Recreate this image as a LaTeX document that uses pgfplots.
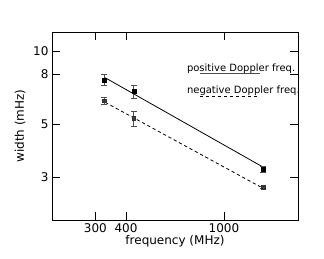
\documentclass[border=0pt]{standalone}
\usepackage{pgfplots}
\pgfplotsset{compat=1.18}
\usepackage{fontspec}
\setmainfont{DejaVu Sans}
\begin{document}
\begin{tikzpicture}
\begin{axis}[
  scale only axis,
  width=246bp, height=188bp,
  xmode=log, ymode=log,
  xmin=200, xmax=2000, ymin=2, ymax=12,
  xtick={300,400,1000}, xticklabels={300,400,1000},
  ytick={3,5,8,10}, yticklabels={3,5,8,10},
  minor xtick={}, minor ytick={},
  log ticks with fixed point,
  tick align=inside,
  major tick length=8bp,
  tick style={black, line width=0.6pt},
  axis line style={black, line width=0.6pt},
  xtick pos=both, ytick pos=both,
  tick label style={font=\fontsize{12bp}{14bp}\selectfont},
  /pgf/number format/assume math mode=true,
  label style={font=\fontsize{12bp}{14bp}\selectfont},
  xlabel={frequency (MHz)},
  ylabel={width (mHz)},
  xlabel style={at={(rel axis cs:0.5,0)}, anchor=center, yshift=-21bp},
  ylabel style={at={(rel axis cs:-0.130,0.5)}, anchor=center},
  clip=false,
]
% fitted lines
\addplot[black, line width=0.8pt, no marks] coordinates {(329,7.76) (1443,3.31)};
\addplot[black, line width=0.8pt, no marks, dash pattern=on 3.3bp off 2.7bp] coordinates {(329,6.14) (1400,2.75)};
% positive Doppler
\addplot[only marks, mark=square*, mark size=2bp, mark options={fill=black, draw=black},
  error bars/.cd, y dir=both, y explicit,
  error bar style={gray!60!black, line width=0.6pt},
  error mark options={gray!60!black, mark size=3bp, line width=0.6pt, rotate=90}]
  table[x=x, y=y, y error plus=ep, y error minus=em] {
x y ep em
326 7.58 0.42 0.38
430 6.81 0.41 0.44
1443 3.26 0.09 0.10
};
% negative Doppler
\addplot[only marks, mark=square*, mark size=1.8bp, mark options={fill=gray!45!black, draw=black!80, line width=0.5pt},
  error bars/.cd, y dir=both, y explicit,
  error bar style={gray!60!black, line width=0.6pt},
  error mark options={gray!60!black, mark size=3bp, line width=0.6pt, rotate=90}]
  table[x=x, y=y, y error plus=ep, y error minus=em] {
x y ep em
326 6.24 0.17 0.23
430 5.26 0.37 0.37
1443 2.74 0.03 0.03
};
% legend
\node[anchor=west, inner sep=0pt, font=\fontsize{10bp}{12bp}\selectfont] at (rel axis cs:0.548,0.802) {positive Doppler freq.};
\draw[gray!60!black, line width=0.8pt] (rel axis cs:0.602,0.779) -- (rel axis cs:0.846,0.779);
\node[anchor=west, inner sep=0pt, font=\fontsize{10bp}{12bp}\selectfont] at (rel axis cs:0.548,0.686) {negative Doppler freq.};
\draw[black, line width=0.8pt, dash pattern=on 3.3bp off 2.7bp] (rel axis cs:0.602,0.656) -- (rel axis cs:0.837,0.656);
\end{axis}
\path ([xshift=-52bp,yshift=-39bp]current axis.south west) rectangle ([xshift=26bp,yshift=32bp]current axis.north east);
\end{tikzpicture}
\end{document}
